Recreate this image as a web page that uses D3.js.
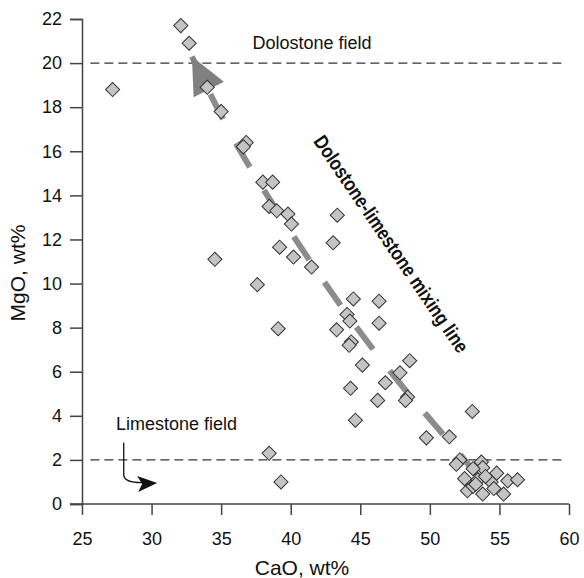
<!DOCTYPE html>
<html lang="en">
<head>
    <meta charset="UTF-8">
    <title>CaO vs MgO</title>
    <script src="https://d3js.org/d3.v7.min.js"></script>
    <style>
        body { margin: 0; background: #fff; }
        svg text { font-family: "Liberation Sans", Arial, Helvetica, sans-serif; fill: #111; }
    </style>
</head>
<body>
    <div id="chart"></div>
    <script>
        const width = 584, height = 578;
        const margin = {top: 19, right: 15, bottom: 74, left: 82};

        // sample analyses, wt%
        const cao = [27.2, 32.1, 32.7, 34.0, 35.0, 36.8, 36.6, 38.0, 38.7, 38.45,
                     39.0, 39.8, 40.05, 39.2, 40.2, 34.55, 37.6, 39.1, 38.45, 39.3,
                     43.35, 43.05, 41.5, 44.5, 46.35, 44.05, 44.25, 46.35, 43.3, 44.35,
                     44.2, 45.15, 48.55, 47.85, 46.8, 44.3, 46.25, 48.4, 48.25, 44.65,
                     53.05, 49.75, 51.4, 52.15, 51.9, 53.7, 53.8, 53.1, 52.5, 54.8,
                     54.4, 55.6, 56.3, 52.7, 53.8, 55.3, 53.1, 53.45, 53.3, 54.0, 54.6];
        const mgo = [18.8, 21.7, 20.9, 18.9, 17.8, 16.4, 16.2, 14.6, 14.6, 13.5,
                     13.3, 13.15, 12.7, 11.65, 11.2, 11.1, 9.95, 7.95, 2.3, 1.0,
                     13.1, 11.85, 10.75, 9.3, 9.2, 8.6, 8.3, 8.2, 7.9, 7.35,
                     7.2, 6.3, 6.5, 5.95, 5.5, 5.25, 4.7, 4.85, 4.7, 3.8,
                     4.2, 3.0, 3.05, 2.0, 1.8, 1.9, 1.65, 1.6, 1.15, 1.4,
                     1.0, 1.05, 1.1, 0.6, 0.45, 0.45, 0.8, 1.1, 0.9, 1.25, 0.7];

        // mixing line trace, tip first (CaO, MgO)
        const mixCaO = [32.9, 36.3, 42.6, 47.3, 52.1, 54.7];
        const mixMgO = [20.3, 16.1, 9.9, 5.9, 2.3, 0.3];

        // field boundaries
        const fieldLevels = [20, 2];
        const xTicks = [25, 30, 35, 40, 45, 50, 55, 60];
        const yTicks = [0, 2, 4, 6, 8, 10, 12, 14, 16, 18, 20, 22];

        const svg = d3.select("#chart")
                      .append("svg")
                      .attr("width", width)
                      .attr("height", height);

        const x = d3.scaleLinear().domain([25, 60]).range([margin.left, width - margin.right]);
        const y = d3.scaleLinear().domain([0, 22]).range([height - margin.bottom, margin.top]);

        // dashed field lines
        svg.selectAll(".field")
           .data(fieldLevels)
           .enter().append("line")
           .attr("x1", x(25.6))
           .attr("x2", x(59.6))
           .attr("y1", d => y(d))
           .attr("y2", d => y(d))
           .attr("stroke", "#333")
           .attr("stroke-width", 1.2)
           .attr("stroke-dasharray", "9,5");

        // mixing line (gray dashes + arrow head)
        const mixPts = mixCaO.map((c, i) => [x(c), y(mixMgO[i])]);
        svg.append("path")
           .attr("d", d3.line().curve(d3.curveCatmullRom)(mixPts))
           .attr("fill", "none")
           .attr("stroke", "#8c8c8c")
           .attr("stroke-width", 6)
           .attr("stroke-dasharray", "28,27")
           .attr("stroke-dashoffset", 13);

        const tip = mixPts[0], nxt = mixPts[1];
        const ang = Math.atan2(nxt[1] - tip[1], nxt[0] - tip[0]);
        const headLen = 37, headHalf = 17;
        const bx = tip[0] + headLen * Math.cos(ang), by = tip[1] + headLen * Math.sin(ang);
        const px = -Math.sin(ang), py = Math.cos(ang);
        svg.append("path")
           .attr("d", `M${tip[0]},${tip[1]}L${bx + headHalf * px},${by + headHalf * py}` +
                      `L${bx - headHalf * px},${by - headHalf * py}Z`)
           .attr("fill", "#808080");

        // data points
        const diamond = d3.symbol().type(d3.symbolSquare).size(100);
        svg.selectAll(".pt")
           .data(cao.map((c, i) => [c, mgo[i]]))
           .enter().append("path")
           .attr("d", diamond)
           .attr("transform", d => `translate(${x(d[0])},${y(d[1])}) rotate(45)`)
           .attr("fill", "#c4c4c4")
           .attr("stroke", "#333")
           .attr("stroke-width", 1);

        // axes
        const xAxis = svg.append("g")
           .attr("transform", `translate(0,${y(0)})`)
           .call(d3.axisBottom(x).tickValues(xTicks).tickSize(11).tickPadding(17));
        const yAxis = svg.append("g")
           .attr("transform", `translate(${x(25)},0)`)
           .call(d3.axisLeft(y).tickValues(yTicks).tickSize(12).tickPadding(8));

        [xAxis, yAxis].forEach(g => {
            g.select(".domain").attr("stroke", "#444").attr("stroke-width", 1.5);
            g.selectAll(".tick line").attr("stroke", "#444").attr("stroke-width", 1.5);
            g.selectAll(".tick text")
             .attr("font-size", "18px")
             .attr("font-family", "Liberation Sans, Arial, sans-serif")
             .attr("fill", "#111");
        });
        xAxis.select(".domain").attr("d", `M${x(25) - 12},0H${x(60)}`);

        // axis titles
        svg.append("text")
           .attr("x", 302)
           .attr("y", 575)
           .attr("text-anchor", "middle")
           .attr("font-size", "21px")
           .text("CaO, wt%");
        svg.append("text")
           .attr("transform", `translate(25,${273}) rotate(-90)`)
           .attr("text-anchor", "middle")
           .attr("font-size", "21px")
           .text("MgO, wt%");

        // annotations
        svg.append("text")
           .attr("x", x(37.25))
           .attr("y", y(20.62))
           .attr("font-size", "18px")
           .text("Dolostone field");

        svg.append("text")
           .attr("x", x(27.44))
           .attr("y", y(3.37))
           .attr("font-size", "18px")
           .text("Limestone field");

        svg.append("text")
           .attr("transform", `translate(${x(47.23)},${y(11.8)}) rotate(55.7)`)
           .attr("text-anchor", "middle")
           .attr("dominant-baseline", "central")
           .attr("font-size", "20px")
           .attr("font-weight", "bold")
           .attr("font-family", "Liberation Sans Narrow, Arial Narrow, sans-serif")
           .attr("textLength", 258)
           .attr("lengthAdjust", "spacingAndGlyphs")
           .text("Dolostone-limestone mixing line");

        // curved pointer into the limestone field
        const p0 = [x(28.0), y(2.78)], p1 = [x(28.0), y(1.3)], p2 = [x(29.3), y(0.97)];
        svg.append("path")
           .attr("d", `M${p0[0]},${p0[1]}L${p1[0]},${p1[1]}Q${p1[0] + 1},${p2[1]} ${p2[0]},${p2[1]}`)
           .attr("fill", "none")
           .attr("stroke", "#111")
           .attr("stroke-width", 1.3);
        const tipL = [x(30.4), y(0.95)];
        svg.append("path")
           .attr("d", `M${tipL[0]},${tipL[1]}L${tipL[0] - 20},${tipL[1] - 7}L${tipL[0] - 15},${tipL[1] + 1}L${tipL[0] - 19},${tipL[1] + 9}Z`)
           .attr("fill", "#111");
    </script>
</body>
</html>
